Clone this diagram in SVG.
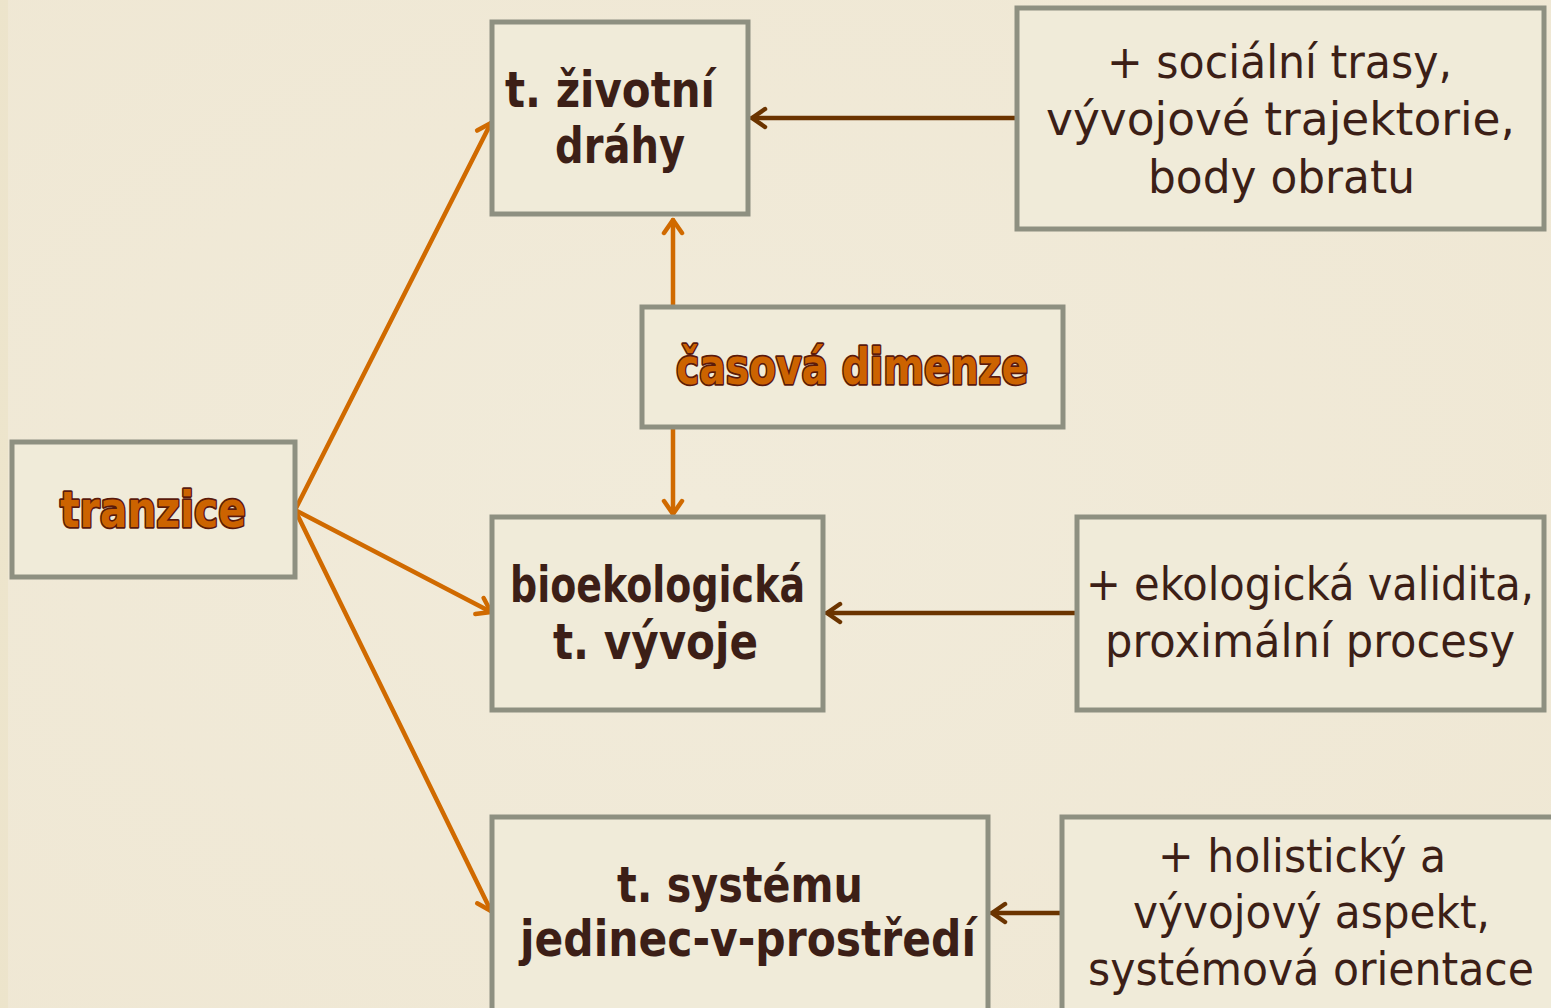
<svg xmlns="http://www.w3.org/2000/svg" width="1551" height="1008" viewBox="0 0 1551 1008">
  <defs>
    <style>
      .box { fill: #f0ebd9; stroke: #8e9081; stroke-width: 5; }
      .bold { font-family: "DejaVu Sans", "Liberation Sans", sans-serif; font-weight: bold; font-size: 49px; fill: #3c1f17; }
      .reg { font-family: "DejaVu Sans", "Liberation Sans", sans-serif; font-size: 46px; fill: #3c1f17; }
      .hl { font-family: "DejaVu Sans", "Liberation Sans", sans-serif; font-weight: bold; font-size: 50px; fill: #cc6300; stroke: #5a1a0c; stroke-width: 3.5; paint-order: stroke; stroke-linejoin: round; }
      .orange { stroke: #d06a00; stroke-width: 4.5; fill: none; stroke-linecap: round; }
      .brown { stroke: #6b3400; stroke-width: 4.5; fill: none; stroke-linecap: round; }
    </style>
    <marker id="arrO" viewBox="0 0 24 24" markerUnits="userSpaceOnUse" markerWidth="24" markerHeight="24" refX="20" refY="12" orient="auto">
      <path d="M7,3 L20,12 L7,21" fill="none" stroke="#d06a00" stroke-width="4.5" stroke-linecap="round" stroke-linejoin="round"/>
    </marker>
    <marker id="arrB" viewBox="0 0 24 24" markerUnits="userSpaceOnUse" markerWidth="24" markerHeight="24" refX="20" refY="12" orient="auto">
      <path d="M7,3 L20,12 L7,21" fill="none" stroke="#6b3400" stroke-width="4.5" stroke-linecap="round" stroke-linejoin="round"/>
    </marker>
    <radialGradient id="bg" cx="0.45" cy="0.5" r="0.8">
      <stop offset="0" stop-color="#f1ebda"/>
      <stop offset="1" stop-color="#efe7d3"/>
    </radialGradient>
  </defs>

  <rect x="0" y="0" width="1551" height="1008" fill="url(#bg)"/>
  <rect x="0" y="0" width="8" height="1008" fill="#ebe2c8" opacity="0.7"/>

  <g id="connectors">
    <line class="orange" x1="295" y1="510" x2="491" y2="123" marker-end="url(#arrO)"/>
    <line class="orange" x1="295" y1="510" x2="491" y2="612" marker-end="url(#arrO)"/>
    <line class="orange" x1="295" y1="510" x2="491" y2="911" marker-end="url(#arrO)"/>
    <line class="orange" x1="673" y1="306" x2="673" y2="220" marker-end="url(#arrO)"/>
    <line class="orange" x1="673" y1="429" x2="673" y2="514" marker-end="url(#arrO)"/>
    <line class="brown" x1="1016" y1="118" x2="752" y2="118" marker-end="url(#arrB)"/>
    <line class="brown" x1="1076" y1="613" x2="827" y2="613" marker-end="url(#arrB)"/>
    <line class="brown" x1="1061" y1="913" x2="992" y2="913" marker-end="url(#arrB)"/>
  </g>

  <g id="node-tranzice">
    <rect class="box" x="12" y="442" width="283" height="135"/>
    <text class="hl" x="60" y="527" textLength="186" lengthAdjust="spacingAndGlyphs">tranzice</text>
  </g>

  <g id="node-zivotni-drahy">
    <rect class="box" x="492" y="22" width="256" height="192"/>
    <text class="bold" x="505" y="107" textLength="210" lengthAdjust="spacingAndGlyphs">t. životní</text>
    <text class="bold" x="555" y="163" textLength="130" lengthAdjust="spacingAndGlyphs">dráhy</text>
  </g>

  <g id="node-socialni">
    <rect class="box" x="1017" y="8" width="527" height="221"/>
    <text class="reg" x="1107" y="78" textLength="345" lengthAdjust="spacingAndGlyphs">+ sociální trasy,</text>
    <text class="reg" x="1046" y="135" textLength="469" lengthAdjust="spacingAndGlyphs">vývojové trajektorie,</text>
    <text class="reg" x="1148" y="193" textLength="267" lengthAdjust="spacingAndGlyphs">body obratu</text>
  </g>

  <g id="node-casova-dimenze">
    <rect class="box" x="642" y="307" width="421" height="120"/>
    <text class="hl" x="676" y="384" textLength="352" lengthAdjust="spacingAndGlyphs">časová dimenze</text>
  </g>

  <g id="node-bioekologicka">
    <rect class="box" x="492" y="517" width="331" height="193"/>
    <text class="bold" x="510" y="602" textLength="295" lengthAdjust="spacingAndGlyphs">bioekologická</text>
    <text class="bold" x="553" y="659" textLength="205" lengthAdjust="spacingAndGlyphs">t. vývoje</text>
  </g>

  <g id="node-ekologicka">
    <rect class="box" x="1077" y="517" width="467" height="193"/>
    <text class="reg" x="1086" y="600" textLength="448" lengthAdjust="spacingAndGlyphs">+ ekologická validita,</text>
    <text class="reg" x="1105" y="657" textLength="410" lengthAdjust="spacingAndGlyphs">proximální procesy</text>
  </g>

  <g id="node-system">
    <rect class="box" x="492" y="817" width="496" height="200"/>
    <text class="bold" x="617" y="902" textLength="246" lengthAdjust="spacingAndGlyphs">t. systému</text>
    <text class="bold" x="520" y="956" textLength="456" lengthAdjust="spacingAndGlyphs">jedinec-v-prostředí</text>
  </g>

  <g id="node-holisticky">
    <rect class="box" x="1062" y="817" width="495" height="200"/>
    <text class="reg" x="1158" y="872" textLength="288" lengthAdjust="spacingAndGlyphs">+ holistický a</text>
    <text class="reg" x="1133" y="928" textLength="357" lengthAdjust="spacingAndGlyphs">vývojový aspekt,</text>
    <text class="reg" x="1088" y="985" textLength="446" lengthAdjust="spacingAndGlyphs">systémová orientace</text>
  </g>
</svg>
